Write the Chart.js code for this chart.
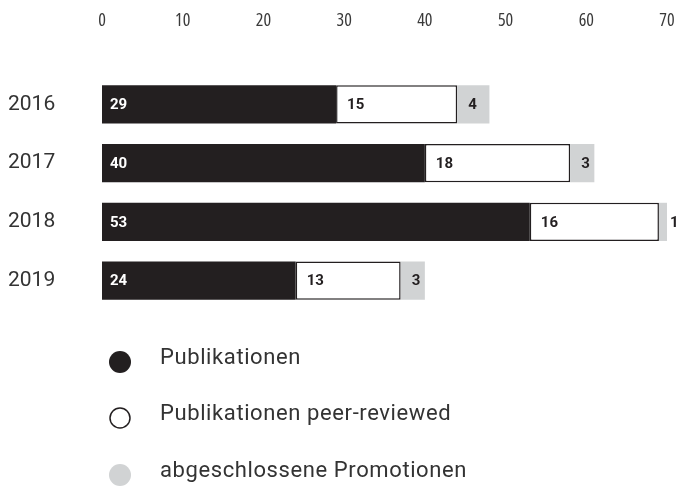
<!DOCTYPE html>
<html>
<head>
<meta charset="utf-8">
<script src="https://cdn.jsdelivr.net/npm/chart.js@4/dist/chart.umd.min.js"></script>
<style>
  html, body { margin: 0; padding: 0; background: #fff; }
  #wrap { width: 684px; height: 487px; }
</style>
</head>
<body>
<div id="wrap"><canvas id="chart"></canvas></div>
<script>
// Publikationen / Promotionen pro Jahr

const years = ['2016', '2017', '2018', '2019'];
const publikationen = [29, 40, 53, 24];
const peerReviewed = [15, 18, 16, 13];
const promotionen = [4, 3, 1, 3];
const xTicks = [0, 10, 20, 30, 40, 50, 60, 70];

const dark = '#231f20';
const grey = '#d1d3d4';

// value inside each bar segment, left aligned
const valueLabels = {
  id: 'valueLabels',
  afterDatasetsDraw(chart) {
    const ctx = chart.ctx;
    ctx.save();
    ctx.font = 'bold 15px Roboto, "DejaVu Sans", sans-serif';
    ctx.textBaseline = 'middle';
    ctx.textAlign = 'left';
    chart.data.datasets.forEach((ds, i) => {
      chart.getDatasetMeta(i).data.forEach((bar, j) => {
        const left = Math.min(bar.x, bar.base);
        ctx.fillStyle = i === 0 ? '#fff' : dark;
        ctx.fillText(ds.data[j], left + (i === 0 ? 8 : 11), bar.y + 1);
      });
    });
    ctx.restore();
  }
};

// legend as a vertical list below the bars
const listLegend = {
  id: 'listLegend',
  afterDraw(chart) {
    const ctx = chart.ctx;
    const rows = [362, 418, 475];
    ctx.save();
    chart.data.datasets.forEach((ds, i) => {
      const y = rows[i];
      ctx.beginPath();
      ctx.arc(120, y, i === 1 ? 10 : 11, 0, Math.PI * 2);
      ctx.fillStyle = ds.backgroundColor;
      ctx.fill();
      if (i === 1) {
        ctx.lineWidth = 1.5;
        ctx.strokeStyle = dark;
        ctx.stroke();
      }
      ctx.fillStyle = '#333';
      ctx.font = '22px Roboto, "DejaVu Sans", sans-serif';
      ctx.letterSpacing = '0.6px';
      ctx.textBaseline = 'middle';
      ctx.textAlign = 'left';
      ctx.fillText(ds.label, 160, y - 4);
    });
    ctx.restore();
  }
};

const ctx = document.getElementById('chart').getContext('2d');
const myChart = new Chart(ctx, {
  type: 'bar',
  data: {
    labels: years,
    datasets: [{
      label: 'Publikationen',
      data: publikationen,
      backgroundColor: dark,
      borderWidth: 0
    }, {
      label: 'Publikationen peer-reviewed',
      data: peerReviewed,
      backgroundColor: '#ffffff',
      borderColor: dark,
      borderWidth: 1.5,
      borderSkipped: false
    }, {
      label: 'abgeschlossene Promotionen',
      data: promotionen,
      backgroundColor: grey,
      borderWidth: 0
    }]
  },
  options: {
    indexAxis: 'y',
    responsive: true,
    maintainAspectRatio: false,
    animation: false,
    layout: { padding: { left: 8, right: 17, top: 0, bottom: 177 } },
    datasets: { bar: { categoryPercentage: 1, barPercentage: 0.65 } },
    scales: {
      x: {
        position: 'top',
        stacked: true,
        min: 0,
        max: 70,
        afterBuildTicks: scale => { scale.ticks = xTicks.map(v => ({ value: v })); },
        afterFit: scale => {
          scale.height = 75;
          // tick padding only meant for vertical spacing
          scale.paddingLeft = 0;
          scale.paddingRight = 0;
        },
        grid: { display: false, drawTicks: false },
        border: { display: false },
        ticks: {
          padding: 43,
          color: '#3a3a3a',
          font: { family: '"Open Sans", sans-serif', weight: 'normal semi-condensed', size: 18 }
        }
      },
      y: {
        stacked: true,
        afterFit: scale => { scale.width = 94; },
        grid: { display: false, drawTicks: false },
        border: { display: false },
        ticks: {
          crossAlign: 'far',
          color: '#333',
          font: { family: 'Roboto, "DejaVu Sans", sans-serif', size: 21 }
        }
      }
    },
    plugins: {
      legend: { display: false },
      tooltip: { enabled: false }
    }
  },
  plugins: [valueLabels, listLegend]
});
</script>
</body>
</html>
